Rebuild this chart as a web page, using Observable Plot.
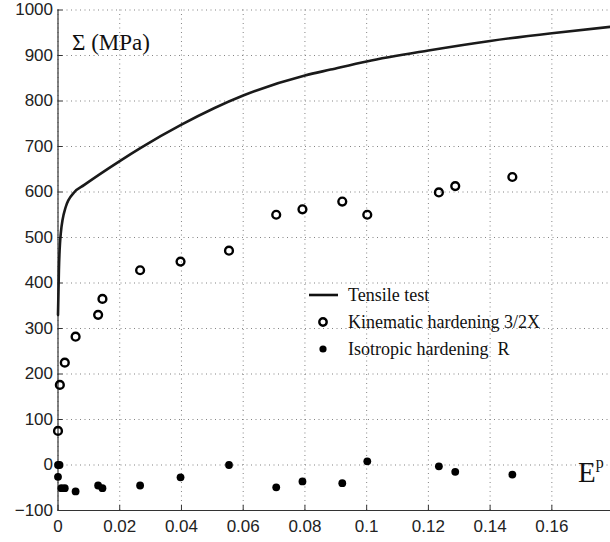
<!DOCTYPE html>
<html>
<head>
<meta charset="utf-8">
<script src="https://cdn.jsdelivr.net/npm/d3@7"></script>
<script src="https://cdn.jsdelivr.net/npm/@observablehq/plot@0.6"></script>
<style>
  html, body { margin: 0; padding: 0; background: #fff; }
  #chart { width: 610px; height: 542px; }
</style>
</head>
<body>
<div id="chart"></div>
<script>
// Tensile test curve (plastic strain Ep, stress MPa)
const curveStrain = [0, 0.0003, 0.0009, 0.0025, 0.0052, 0.0084, 0.02, 0.0268, 0.04, 0.06, 0.08, 0.0883, 0.1, 0.12, 0.14, 0.16, 0.179];
const curveStress = [330, 430, 509, 567, 599, 615, 668, 697, 748, 812, 856, 869, 887, 911, 932, 949, 963];

// Kinematic hardening 3/2X (open circles)
const kinStrain = [0, 0.0006, 0.0022, 0.0057, 0.013, 0.0144, 0.0266, 0.0397, 0.0554, 0.0707, 0.0792, 0.0921, 0.1002, 0.1234, 0.1287, 0.1472];
const kinStress = [75, 176, 225, 282, 330, 365, 428, 447, 471, 550, 562, 579, 550, 599, 613, 633];

// Isotropic hardening R (filled dots)
const isoStrain = [0, 0.0005, 0, 0.0011, 0.0022, 0.0057, 0.013, 0.0144, 0.0266, 0.0397, 0.0554, 0.0707, 0.0792, 0.0921, 0.1002, 0.1234, 0.1287, 0.1472];
const isoStress = [0, 0, -26, -51, -51, -58, -45, -51, -45, -27, 0, -49, -36, -40, 8, -3, -15, -21];

// Axis ticks
const xTicks = [0, 0.02, 0.04, 0.06, 0.08, 0.1, 0.12, 0.14, 0.16];
const yTicks = [-100, 0, 100, 200, 300, 400, 500, 600, 700, 800, 900, 1000];

// Texts
const yLabel = "Σ (MPa)";
const xLabel = "E";
const xLabelSup = "p";
const legendLabels = ["Tensile test", "Kinematic hardening 3/2X", "Isotropic hardening  R"];

const curve = curveStrain.map((x, i) => ({x, y: curveStress[i]}));
const kin = kinStrain.map((x, i) => ({x, y: kinStress[i]}));
const iso = isoStrain.map((x, i) => ({x, y: isoStress[i]}));

const fmtY = v => v < 0 ? "\u2212" + (-v) : String(v);
const fmtX = v => v === 0 ? "0" : String(+v.toFixed(2));
const blank = () => "";

const W = 610, H = 542;
const chart = Plot.plot({
  width: W,
  height: H,
  marginLeft: 57.5,
  marginRight: 0,
  marginTop: 9.5,
  marginBottom: 32,
  style: {fontFamily: "'Liberation Sans', Arial, sans-serif", fontSize: "17px", background: "#fff", color: "#222"},
  x: {domain: [0, 0.179]},
  y: {domain: [-100, 1000]},
  marks: [
    Plot.gridX(xTicks, {stroke: "#777", strokeOpacity: 0.9, strokeDasharray: "1,3.5"}),
    Plot.gridY(yTicks, {stroke: "#777", strokeOpacity: 0.9, strokeDasharray: "1,3.5"}),
    Plot.axisX(xTicks, {tickSize: 0, tickPadding: 9, tickFormat: fmtX, label: null, fontSize: 17}),
    Plot.axisY(yTicks, {tickSize: 0, tickPadding: 5, tickFormat: fmtY, label: null, fontSize: 17}),
    Plot.axisX(xTicks, {tickSize: -5, tickFormat: blank, label: null, stroke: "#333"}),
    Plot.axisY(yTicks, {tickSize: -5, tickFormat: blank, label: null, stroke: "#333"}),
    Plot.ruleX([0], {stroke: "#333", strokeWidth: 1.2}),
    Plot.ruleY([-100], {stroke: "#333", strokeWidth: 1.2}),
    Plot.line(curve, {x: "x", y: "y", stroke: "#1a1a1a", strokeWidth: 2.6, curve: "monotone-x"}),
    Plot.dot(kin, {x: "x", y: "y", r: 3.9, stroke: "#000", strokeWidth: 2.4, fill: "none"}),
    Plot.dot(iso, {x: "x", y: "y", r: 3.9, fill: "#000", stroke: "none"})
  ]
});
document.getElementById("chart").appendChild(chart);

// Annotations and legend
const svg = d3.select(chart);
const serif = "'Liberation Serif', 'Times New Roman', serif";
svg.append("text").attr("x", 72).attr("y", 50).attr("text-anchor", "start").attr("font-family", serif).attr("font-size", 23).attr("fill", "#111").text(yLabel);
const el = svg.append("text").attr("x", 578).attr("y", 482).attr("text-anchor", "start").attr("font-family", serif).attr("font-size", 29).attr("fill", "#111");
el.append("tspan").text(xLabel);
el.append("tspan").attr("font-size", 16).attr("dy", -14).text(xLabelSup);

const lg = svg.append("g").attr("font-family", serif).attr("font-size", 18).attr("fill", "#111").attr("text-anchor", "start");
const rowsY = [295, 322, 349];
lg.append("line").attr("x1", 309).attr("x2", 338).attr("y1", rowsY[0]).attr("y2", rowsY[0]).attr("stroke", "#111").attr("stroke-width", 2.6);
lg.append("circle").attr("cx", 323).attr("cy", rowsY[1]).attr("r", 3.7).attr("fill", "none").attr("stroke", "#000").attr("stroke-width", 2.4);
lg.append("circle").attr("cx", 323).attr("cy", rowsY[2]).attr("r", 3.6).attr("fill", "#000");
legendLabels.forEach((t, i) => {
  lg.append("text").attr("x", 348).attr("y", rowsY[i]).attr("dy", "0.33em").text(t);
});
</script>
</body>
</html>
